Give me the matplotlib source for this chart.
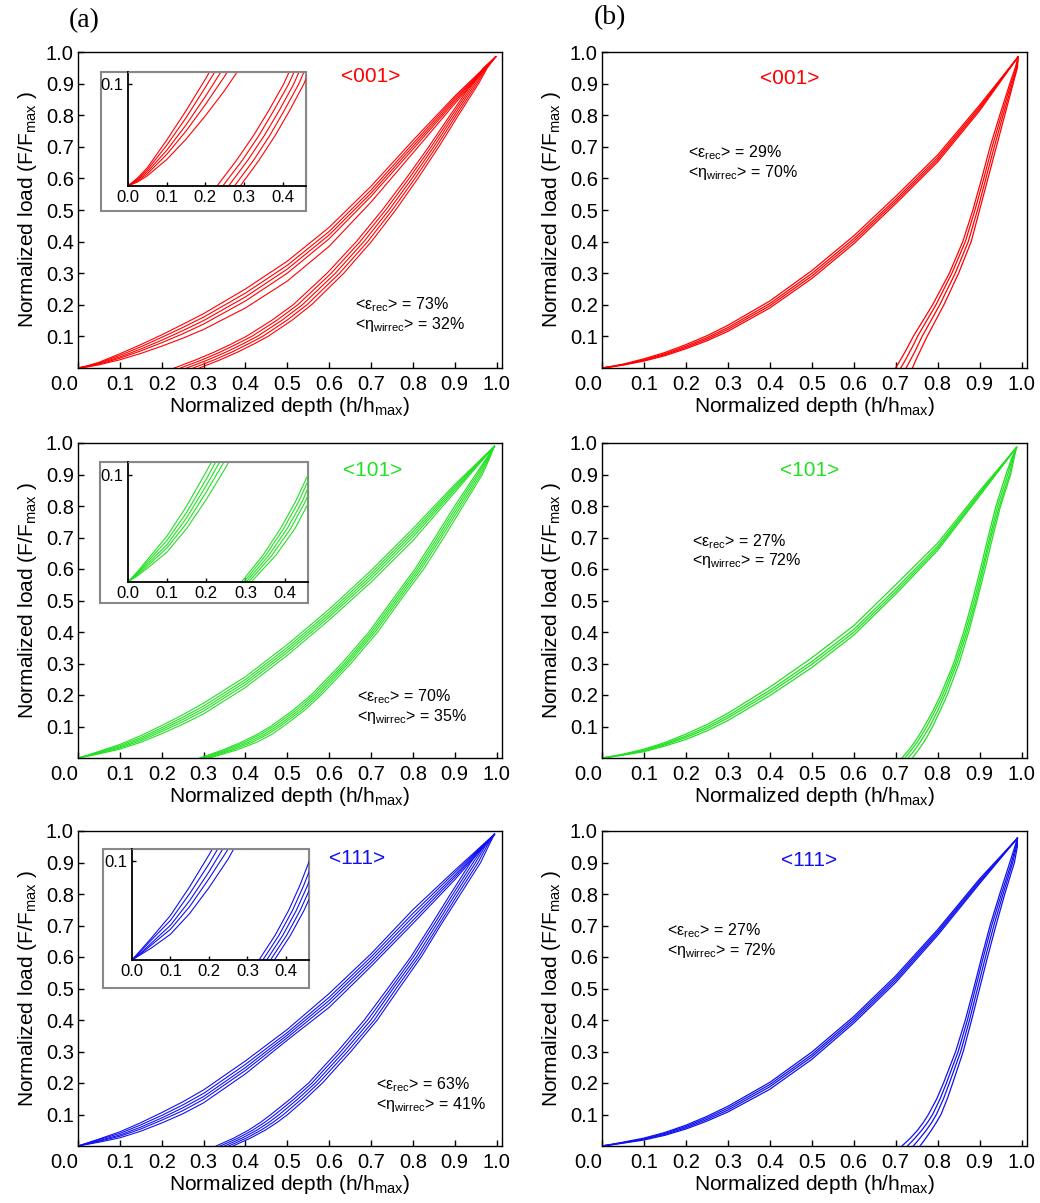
import matplotlib
matplotlib.use("Agg")
import matplotlib.pyplot as plt
from matplotlib.patches import Rectangle

plt.rcParams["font.family"] = ["Liberation Sans", "DejaVu Sans"]
plt.rcParams["mathtext.fontset"] = "custom"
plt.rcParams["mathtext.rm"] = "Liberation Sans"
plt.rcParams["mathtext.it"] = "Liberation Sans:italic"

# loading branch: load (F/Fmax) read at these depths; unloading branch: depth read at these loads
load_depth = [0, 0.025, 0.05, 0.1, 0.15, 0.2, 0.25, 0.3, 0.4, 0.5, 0.6, 0.7, 0.8, 0.9]
unload_load = [0, 0.025, 0.05, 0.075, 0.1, 0.15, 0.2, 0.3, 0.4, 0.5, 0.6, 0.7, 0.8, 0.9, 0.95]

# ---- <001>, left column
a001_peak = (0.998, 0.985)
a001_load = [
    [0, 0.008, 0.018, 0.045, 0.074, 0.105, 0.138, 0.172, 0.250, 0.338, 0.445, 0.575, 0.720, 0.860],
    [0, 0.007, 0.016, 0.040, 0.067, 0.097, 0.128, 0.161, 0.237, 0.325, 0.432, 0.563, 0.710, 0.855],
    [0, 0.006, 0.014, 0.035, 0.060, 0.088, 0.118, 0.150, 0.225, 0.313, 0.421, 0.553, 0.701, 0.849],
    [0, 0.005, 0.012, 0.031, 0.054, 0.080, 0.108, 0.139, 0.212, 0.300, 0.409, 0.543, 0.692, 0.843],
    [0, 0.004, 0.010, 0.026, 0.046, 0.069, 0.094, 0.122, 0.190, 0.275, 0.385, 0.525, 0.680, 0.836],
]
a001_unload = [
    [0.230, 0.280, 0.325, 0.365, 0.402, 0.462, 0.514, 0.595, 0.665, 0.727, 0.784, 0.838, 0.889, 0.941, 0.969],
    [0.245, 0.295, 0.339, 0.378, 0.415, 0.474, 0.525, 0.605, 0.674, 0.735, 0.791, 0.844, 0.894, 0.945, 0.972],
    [0.260, 0.309, 0.353, 0.392, 0.428, 0.486, 0.536, 0.615, 0.683, 0.743, 0.798, 0.850, 0.899, 0.949, 0.974],
    [0.275, 0.324, 0.367, 0.405, 0.441, 0.498, 0.547, 0.625, 0.692, 0.751, 0.805, 0.856, 0.904, 0.953, 0.976],
    [0.290, 0.338, 0.381, 0.419, 0.454, 0.510, 0.558, 0.635, 0.701, 0.759, 0.812, 0.862, 0.909, 0.957, 0.978],
]

# ---- <001>, right column
b001_peak = (0.992, 0.985)
b001_load = [
    [0, 0.006, 0.012, 0.029, 0.049, 0.074, 0.102, 0.135, 0.212, 0.308, 0.418, 0.543, 0.674, 0.832],
    [0, 0.005, 0.011, 0.026, 0.045, 0.069, 0.096, 0.128, 0.204, 0.299, 0.409, 0.534, 0.666, 0.826],
    [0, 0.005, 0.010, 0.024, 0.042, 0.065, 0.091, 0.122, 0.197, 0.291, 0.401, 0.527, 0.659, 0.820],
    [0, 0.004, 0.009, 0.022, 0.039, 0.061, 0.086, 0.116, 0.190, 0.283, 0.393, 0.520, 0.652, 0.814],
]
b001_unload = [
    [0.700, 0.711, 0.722, 0.732, 0.742, 0.765, 0.788, 0.828, 0.860, 0.884, 0.905, 0.925, 0.948, 0.972, 0.985],
    [0.712, 0.723, 0.733, 0.743, 0.752, 0.774, 0.796, 0.834, 0.866, 0.889, 0.910, 0.930, 0.952, 0.975, 0.987],
    [0.725, 0.735, 0.745, 0.754, 0.763, 0.784, 0.805, 0.842, 0.873, 0.895, 0.915, 0.935, 0.956, 0.978, 0.989],
    [0.740, 0.748, 0.757, 0.766, 0.775, 0.795, 0.815, 0.850, 0.880, 0.900, 0.920, 0.940, 0.960, 0.980, 0.990],
]

# ---- <101>, left column
a101_peak = (0.995, 0.990)
a101_load = [
    [0, 0.010, 0.021, 0.043, 0.071, 0.103, 0.137, 0.174, 0.258, 0.360, 0.472, 0.595, 0.728, 0.868],
    [0, 0.009, 0.019, 0.039, 0.065, 0.096, 0.129, 0.165, 0.249, 0.351, 0.463, 0.586, 0.719, 0.862],
    [0, 0.008, 0.017, 0.035, 0.060, 0.090, 0.122, 0.157, 0.241, 0.343, 0.455, 0.577, 0.710, 0.856],
    [0, 0.007, 0.015, 0.032, 0.055, 0.084, 0.115, 0.149, 0.233, 0.335, 0.447, 0.568, 0.701, 0.850],
    [0, 0.006, 0.013, 0.028, 0.050, 0.077, 0.107, 0.140, 0.224, 0.326, 0.438, 0.558, 0.690, 0.843],
]
a101_unload = [
    [0.290, 0.345, 0.390, 0.428, 0.460, 0.512, 0.557, 0.630, 0.695, 0.750, 0.805, 0.853, 0.900, 0.950, 0.975],
    [0.296, 0.352, 0.398, 0.436, 0.467, 0.519, 0.563, 0.636, 0.700, 0.755, 0.810, 0.858, 0.905, 0.954, 0.977],
    [0.302, 0.360, 0.407, 0.445, 0.475, 0.526, 0.569, 0.641, 0.705, 0.760, 0.815, 0.863, 0.910, 0.958, 0.979],
    [0.308, 0.368, 0.416, 0.453, 0.482, 0.533, 0.575, 0.646, 0.710, 0.765, 0.820, 0.868, 0.915, 0.962, 0.981],
    [0.315, 0.378, 0.427, 0.463, 0.490, 0.540, 0.581, 0.652, 0.716, 0.770, 0.826, 0.874, 0.920, 0.966, 0.983],
]

# ---- <101>, right column
b101_peak = (0.988, 0.986)
b101_load = [
    [0, 0.006, 0.012, 0.028, 0.049, 0.076, 0.106, 0.142, 0.225, 0.318, 0.420, 0.550, 0.682, 0.848],
    [0, 0.005, 0.011, 0.025, 0.045, 0.070, 0.099, 0.134, 0.215, 0.306, 0.408, 0.537, 0.673, 0.842],
    [0, 0.005, 0.010, 0.023, 0.042, 0.065, 0.093, 0.127, 0.207, 0.297, 0.399, 0.528, 0.666, 0.837],
    [0, 0.004, 0.009, 0.020, 0.038, 0.059, 0.086, 0.119, 0.198, 0.287, 0.390, 0.520, 0.659, 0.832],
]
b101_unload = [
    [0.715, 0.731, 0.745, 0.757, 0.768, 0.789, 0.807, 0.838, 0.862, 0.883, 0.902, 0.920, 0.939, 0.963, 0.976],
    [0.722, 0.737, 0.751, 0.763, 0.774, 0.794, 0.812, 0.842, 0.866, 0.887, 0.906, 0.924, 0.943, 0.967, 0.978],
    [0.730, 0.745, 0.758, 0.770, 0.781, 0.800, 0.817, 0.846, 0.870, 0.891, 0.909, 0.927, 0.947, 0.971, 0.980],
    [0.740, 0.754, 0.767, 0.778, 0.788, 0.806, 0.823, 0.851, 0.874, 0.894, 0.913, 0.931, 0.950, 0.974, 0.982],
]

# ---- <111>, left column
a111_peak = (0.995, 0.990)
a111_load = [
    [0, 0.011, 0.022, 0.045, 0.074, 0.106, 0.140, 0.178, 0.270, 0.370, 0.484, 0.610, 0.750, 0.875],
    [0, 0.010, 0.020, 0.040, 0.067, 0.097, 0.130, 0.167, 0.259, 0.360, 0.472, 0.600, 0.738, 0.868],
    [0, 0.008, 0.017, 0.035, 0.060, 0.089, 0.121, 0.157, 0.249, 0.352, 0.462, 0.590, 0.727, 0.860],
    [0, 0.007, 0.015, 0.031, 0.054, 0.082, 0.112, 0.148, 0.240, 0.344, 0.452, 0.580, 0.716, 0.853],
    [0, 0.006, 0.012, 0.026, 0.047, 0.073, 0.102, 0.137, 0.229, 0.336, 0.440, 0.570, 0.706, 0.845],
]
a111_unload = [
    [0.330, 0.372, 0.407, 0.436, 0.461, 0.508, 0.551, 0.620, 0.684, 0.740, 0.795, 0.843, 0.890, 0.938, 0.965],
    [0.340, 0.382, 0.417, 0.446, 0.471, 0.517, 0.559, 0.628, 0.692, 0.747, 0.801, 0.849, 0.896, 0.944, 0.969],
    [0.350, 0.392, 0.427, 0.456, 0.481, 0.526, 0.567, 0.636, 0.700, 0.753, 0.808, 0.855, 0.902, 0.950, 0.972],
    [0.360, 0.402, 0.437, 0.466, 0.491, 0.535, 0.575, 0.644, 0.708, 0.760, 0.814, 0.861, 0.908, 0.956, 0.976],
    [0.370, 0.412, 0.447, 0.476, 0.501, 0.544, 0.584, 0.652, 0.715, 0.767, 0.820, 0.866, 0.914, 0.962, 0.980],
]

# ---- <111>, right column
b111_peak = (0.990, 0.977)
b111_load = [
    [0, 0.006, 0.012, 0.025, 0.043, 0.066, 0.094, 0.126, 0.202, 0.298, 0.411, 0.540, 0.687, 0.848],
    [0, 0.005, 0.011, 0.023, 0.040, 0.062, 0.089, 0.120, 0.195, 0.290, 0.404, 0.533, 0.681, 0.843],
    [0, 0.005, 0.010, 0.021, 0.037, 0.058, 0.084, 0.114, 0.188, 0.283, 0.397, 0.526, 0.675, 0.838],
    [0, 0.004, 0.009, 0.019, 0.034, 0.054, 0.079, 0.108, 0.180, 0.275, 0.390, 0.519, 0.669, 0.833],
]
b111_unload = [
    [0.715, 0.735, 0.752, 0.766, 0.778, 0.798, 0.814, 0.843, 0.866, 0.886, 0.905, 0.925, 0.948, 0.972, 0.984],
    [0.728, 0.746, 0.762, 0.776, 0.788, 0.806, 0.821, 0.849, 0.871, 0.890, 0.909, 0.929, 0.952, 0.976, 0.986],
    [0.742, 0.758, 0.773, 0.786, 0.797, 0.814, 0.828, 0.855, 0.876, 0.895, 0.914, 0.934, 0.956, 0.979, 0.988],
    [0.758, 0.772, 0.785, 0.797, 0.808, 0.823, 0.836, 0.861, 0.881, 0.900, 0.919, 0.939, 0.960, 0.983, 0.990],
]

orientations = ["<001>", "<101>", "<111>"]
colors = ["#ff0000", "#22e022", "#1010f0"]
eps_rec_left = ["73%", "70%", "63%"]
eta_left = ["32%", "35%", "41%"]
eps_rec_right = ["29%", "27%", "27%"]
eta_right = ["70%", "72%", "72%"]

x_ticks = [0.0, 0.1, 0.2, 0.3, 0.4, 0.5, 0.6, 0.7, 0.8, 0.9, 1.0]
y_ticks = [0.1, 0.2, 0.3, 0.4, 0.5, 0.6, 0.7, 0.8, 0.9, 1.0]
inset_x_ticks = [0.0, 0.1, 0.2, 0.3, 0.4]

W, H = 1040, 1203
fig = plt.figure(figsize=(W / 100, H / 100), dpi=100)


def box(x0, y0, x1, y1):
    # pixel box (top-left origin) -> figure fraction rect
    return [x0 / W, 1 - y1 / H, (x1 - x0) / W, (y1 - y0) / H]


def draw_curves(ax, load, unload, peak, color, lw):
    for c in load:
        ax.plot(load_depth + [peak[0]], c + [peak[1]], color=color, lw=lw)
    for c in unload:
        ax.plot(c + [peak[0]], unload_load + [peak[1]], color=color, lw=lw)


rows = [
    (a001_load, a001_unload, a001_peak, b001_load, b001_unload, b001_peak),
    (a101_load, a101_unload, a101_peak, b101_load, b101_unload, b101_peak),
    (a111_load, a111_unload, a111_peak, b111_load, b111_unload, b111_peak),
]
row_top = [52, 443, 831]
row_bot = [368, 758, 1146]
inset_frames = [(101, 72, 306, 211), (100, 462, 308, 603), (103, 849, 309, 988)]
inset_axes_px = [(128, 72, 306, 186), (128, 462, 308, 582), (132, 849, 309, 960)]
orient_pos = [((371, 77), (790, 79)), ((373, 470), (810, 471)), ((357, 858), (809, 860))]
note_pos = [((355, 305), (688, 153)), ((357, 697), (692, 542)), ((376, 1085), (667, 931))]

for r in range(3):
    la, ua, pa, lb, ub, pb = rows[r]
    col = colors[r]
    for side, (x0, x1) in enumerate([(78, 502), (602, 1027)]):
        ax = fig.add_axes(box(x0, row_top[r], x1, row_bot[r]))
        if side == 0:
            draw_curves(ax, la, ua, pa, col, 0.8)
        else:
            draw_curves(ax, lb, ub, pb, col, 0.9)
        ax.set_xlim(0, 1.013)
        ax.set_ylim(0, 1.0)
        ax.set_xticks(x_ticks)
        ax.set_xticklabels([f"{v:.1f}" for v in x_ticks])
        ax.set_yticks(y_ticks)
        ax.set_yticklabels([f"{v:.1f}" for v in y_ticks])
        ax.get_xticklabels()[0].set_ha("right")
        ax.tick_params(direction="in", length=4, width=1, labelsize=14.5)
        ax.tick_params(axis="x", pad=5)
        ax.tick_params(axis="y", pad=3)
        for s in ax.spines.values():
            s.set_linewidth(1.0)
        ax.set_xlabel(r"Normalized depth (h/h$_{\mathrm{max}}$)", fontsize=15, labelpad=1)
        ax.set_ylabel(r"Normalized load (F/F$_{\mathrm{max}}$ )", fontsize=15, labelpad=5)

        ox, oy = orient_pos[r][side]
        fig.text(ox / W, 1 - oy / H, orientations[r], color=col, fontsize=15,
                 ha="center", va="center")
        nx, ny = note_pos[r][side]
        eps = eps_rec_left[r] if side == 0 else eps_rec_right[r]
        eta = eta_left[r] if side == 0 else eta_right[r]
        fig.text(nx / W, 1 - ny / H, "<ε$_{\\mathrm{rec}}$> = " + eps,
                 fontsize=11.5, ha="left", va="center")
        fig.text(nx / W, 1 - (ny + 19) / H, "<η$_{\\mathrm{wirrec}}$> = " + eta,
                 fontsize=11.5, ha="left", va="center")

    # inset on the left panel
    fx0, fy0, fx1, fy1 = inset_frames[r]
    fig.patches.append(Rectangle((fx0 / W, 1 - fy1 / H), (fx1 - fx0) / W, (fy1 - fy0) / H,
                                 transform=fig.transFigure, fill=True, facecolor="white",
                                 edgecolor="#888888", lw=1.5, zorder=5))
    ins = fig.add_axes(box(*inset_axes_px[r]), zorder=6)
    draw_curves(ins, la, ua, pa, col, 0.8)
    ins.set_xlim(0, 0.46)
    ins.set_ylim(0, 0.112)
    ins.set_xticks(inset_x_ticks)
    ins.set_xticklabels([f"{v:.1f}" for v in inset_x_ticks])
    ins.set_yticks([0.1])
    ins.set_yticklabels(["0.1"])
    ins.tick_params(direction="in", length=3, width=1, labelsize=12, pad=3)
    ins.spines["top"].set_color("#888888")
    ins.spines["right"].set_color("#888888")
    ins.spines["left"].set_linewidth(1.3)
    ins.spines["bottom"].set_linewidth(1.3)
    ins.patch.set_alpha(0)

fig.text(84 / W, 1 - 21 / H, "(a)", fontsize=20, family="Liberation Serif", ha="center", va="center")
fig.text(610 / W, 1 - 18 / H, "(b)", fontsize=20, family="Liberation Serif", ha="center", va="center")

fig.savefig("out.png", dpi=100)
